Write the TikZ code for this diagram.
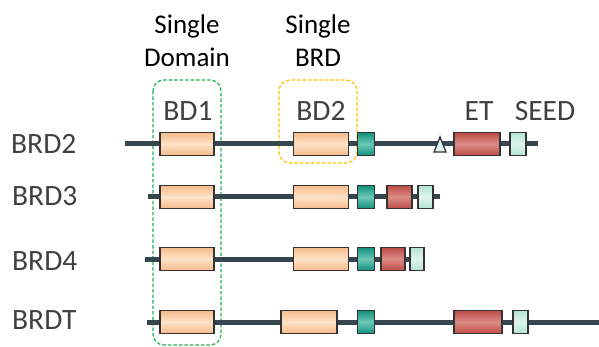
\documentclass[tikz,border=0pt]{standalone}
\usepackage{fontspec}
\setmainfont{Carlito}
\usepackage{xcolor}
\usetikzlibrary{positioning}
\definecolor{chaincol}{HTML}{36464E}
\definecolor{boxline}{HTML}{333333}
\definecolor{labgrey}{HTML}{404040}
\definecolor{bdedge}{HTML}{F6BB8A}
\definecolor{bdmid}{HTML}{FDE2C8}
\definecolor{bredge}{HTML}{12907C}
\definecolor{brmid}{HTML}{6CC8B6}
\definecolor{etedge}{HTML}{BE4B46}
\definecolor{etmid}{HTML}{DC8C86}
\definecolor{sdedge}{HTML}{B4E3D5}
\definecolor{sdmid}{HTML}{DDF4EC}
\definecolor{domgreen}{HTML}{1DB24E}
\definecolor{brdgold}{HTML}{FFC000}
\tikzset{
	backbone/.style={draw=chaincol,line width=5pt},
	dom/.style={draw=boxline,line width=1.3pt,inner sep=0pt,minimum height=23pt},
	bdbox/.style={dom,top color=bdedge,bottom color=bdedge,middle color=bdmid},
	brbox/.style={dom,top color=bredge,bottom color=bredge,middle color=brmid},
	etbox/.style={dom,top color=etedge,bottom color=etedge,middle color=etmid},
	sdbox/.style={dom,top color=sdedge,bottom color=sdedge,middle color=sdmid},
	rowlab/.style={font=\fontsize{29.5}{32}\selectfont,text=labgrey,anchor=base west,inner sep=0pt},
	domlab/.style={font=\fontsize{29.5}{32}\selectfont,text=labgrey,anchor=base,inner sep=0pt},
	headlab/.style={font=\fontsize{27}{33}\selectfont,align=center,anchor=north,inner sep=0pt}
}

\begin{document}
\begin{tikzpicture}[x=1pt,y=-1pt]
		\useasboundingbox (0,0) rectangle (599,347);
		% headings and dashed frames
		\node[headlab] (hdom) at (187,15) {Single\\Domain};
		\node[headlab] (hbrd) at (318,15) {Single\\BRD};
		\draw[domgreen,line width=1.2pt,dash pattern=on 3.5pt off 2pt,rounded corners=11pt] (153,80) rectangle (221,345);
		\draw[brdgold,line width=1.2pt,dash pattern=on 3.5pt off 2pt,rounded corners=11pt] (279,80) rectangle (357,163);
		\node[domlab] (tbd1) at (188,121) {BD1};
		\node[domlab] (tbd2) at (321,121) {BD2};
		\node[domlab] (tet) at (479,121) {ET};
		\node[domlab] (tseed) at (545,121) {SEED};
		% BRD2
		\node[rowlab] (l2) at (11,154) {BRD2};
		\coordinate (s2) at (125,144);
		\coordinate (e2) at (538,144);
		\draw[backbone] (s2) -- (e2);
		\node[bdbox,minimum width=54pt] (a2) at (187,144) {};
		\node[bdbox,minimum width=55pt] (b2) at (321,144) {};
		\node[brbox,minimum width=17pt] (c2) at (366,144) {};
		\draw[boxline,line width=1.3pt,fill=sdmid] (434,152) -- (440,137) -- (446,152) -- cycle;
		\node[etbox,minimum width=46pt] (d2) at (477,144) {};
		\node[sdbox,minimum width=16pt] (f2) at (518,144) {};
		% BRD3
		\node[rowlab] (l3) at (12,206) {BRD3};
		\coordinate (s3) at (148,197);
		\coordinate (e3) at (440,197);
		\draw[backbone] (s3) -- (e3);
		\node[bdbox,minimum width=54pt] (a3) at (187,197) {};
		\node[bdbox,minimum width=55pt] (b3) at (321,197) {};
		\node[brbox,minimum width=17pt] (c3) at (366,197) {};
		\node[etbox,minimum width=25pt] (d3) at (399.5,197) {};
		\node[sdbox,minimum width=15pt] (f3) at (425.5,197) {};
		% BRD4
		\node[rowlab] (l4) at (12,270) {BRD4};
		\coordinate (s4) at (145,259);
		\coordinate (e4) at (424,259);
		\draw[backbone] (s4) -- (e4);
		\node[bdbox,minimum width=54pt] (a4) at (187,259) {};
		\node[bdbox,minimum width=55pt] (b4) at (321,259) {};
		\node[brbox,minimum width=17pt] (c4) at (366,259) {};
		\node[etbox,minimum width=24pt] (d4) at (393,259) {};
		\node[sdbox,minimum width=14pt] (f4) at (417,259) {};
		% BRDT
		\node[rowlab] (lt) at (12,329) {BRDT};
		\coordinate (st) at (147,322);
		\coordinate (et) at (599,322);
		\draw[backbone] (st) -- (et);
		\node[bdbox,minimum width=54pt] (at) at (187,322) {};
		\node[bdbox,minimum width=56pt] (bt) at (309,322) {};
		\node[brbox,minimum width=17pt] (ct) at (366,322) {};
		\node[etbox,minimum width=48pt] (dt) at (478,322) {};
		\node[sdbox,minimum width=15pt] (ft) at (520.5,322) {};
\end{tikzpicture}
\end{document}
